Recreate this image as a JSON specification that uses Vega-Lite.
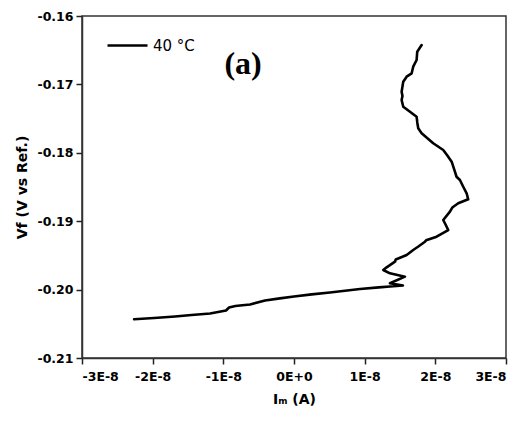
{
  "$schema": "https://vega.github.io/schema/vega-lite/v6.json",
  "autosize": {"type": "none"},
  "width": 424,
  "height": 342,
  "padding": {"left": 82, "top": 16, "right": 17, "bottom": 65},
  "background": "white",
  "config": {
    "view": {"stroke": "#333333", "strokeWidth": 1.5},
    "axis": {
      "grid": false,
      "ticks": true,
      "domainColor": "#333333",
      "domainWidth": 1.5,
      "tickColor": "#222222",
      "tickWidth": 1.5,
      "labelFont": "DejaVu Sans",
      "labelFontWeight": "bold",
      "labelFontSize": 12.5,
      "labelColor": "black",
      "titleFont": "DejaVu Sans",
      "titleFontWeight": "bold",
      "titleFontSize": 14,
      "titleColor": "black"
    }
  },
  "layer": [
    {
      "data": {
        "values": [
          {"i": 1, "I": -2.263e-8, "V": -0.20434},
          {"i": 2, "I": -1.98e-8, "V": -0.20415},
          {"i": 3, "I": -1.683e-8, "V": -0.20393},
          {"i": 4, "I": -1.45e-8, "V": -0.20372},
          {"i": 5, "I": -1.188e-8, "V": -0.20349},
          {"i": 6, "I": -0.962e-8, "V": -0.20306},
          {"i": 7, "I": -0.919e-8, "V": -0.20262},
          {"i": 8, "I": -0.83e-8, "V": -0.20240},
          {"i": 9, "I": -0.764e-8, "V": -0.20232},
          {"i": 10, "I": -0.622e-8, "V": -0.20218},
          {"i": 11, "I": -0.41e-8, "V": -0.20159},
          {"i": 12, "I": -0.2e-8, "V": -0.20128},
          {"i": 13, "I": 0.0, "V": -0.20101},
          {"i": 14, "I": 0.25e-8, "V": -0.20070},
          {"i": 15, "I": 0.509e-8, "V": -0.20042},
          {"i": 16, "I": 0.934e-8, "V": -0.19991},
          {"i": 17, "I": 1.2e-8, "V": -0.19968},
          {"i": 18, "I": 1.358e-8, "V": -0.19955},
          {"i": 19, "I": 1.542e-8, "V": -0.1994},
          {"i": 20, "I": 1.358e-8, "V": -0.19908},
          {"i": 21, "I": 1.57e-8, "V": -0.19811},
          {"i": 22, "I": 1.358e-8, "V": -0.19762},
          {"i": 23, "I": 1.263e-8, "V": -0.19713},
          {"i": 24, "I": 1.311e-8, "V": -0.19674},
          {"i": 25, "I": 1.429e-8, "V": -0.19592},
          {"i": 26, "I": 1.44e-8, "V": -0.19560},
          {"i": 27, "I": 1.594e-8, "V": -0.19494},
          {"i": 28, "I": 1.687e-8, "V": -0.19421},
          {"i": 29, "I": 1.76e-8, "V": -0.19370},
          {"i": 30, "I": 1.853e-8, "V": -0.193},
          {"i": 31, "I": 1.87e-8, "V": -0.19280},
          {"i": 32, "I": 2.018e-8, "V": -0.19227},
          {"i": 33, "I": 2.182e-8, "V": -0.19129},
          {"i": 34, "I": 2.15e-8, "V": -0.19060},
          {"i": 35, "I": 2.112e-8, "V": -0.18982},
          {"i": 36, "I": 2.207e-8, "V": -0.18861},
          {"i": 37, "I": 2.24e-8, "V": -0.18800},
          {"i": 38, "I": 2.324e-8, "V": -0.18738},
          {"i": 39, "I": 2.465e-8, "V": -0.1868},
          {"i": 40, "I": 2.443e-8, "V": -0.18592},
          {"i": 41, "I": 2.395e-8, "V": -0.18496},
          {"i": 42, "I": 2.348e-8, "V": -0.18398},
          {"i": 43, "I": 2.30e-8, "V": -0.18350},
          {"i": 44, "I": 2.277e-8, "V": -0.18276},
          {"i": 45, "I": 2.231e-8, "V": -0.1813},
          {"i": 46, "I": 2.17e-8, "V": -0.18040},
          {"i": 47, "I": 2.112e-8, "V": -0.17959},
          {"i": 48, "I": 1.97e-8, "V": -0.17861},
          {"i": 49, "I": 1.806e-8, "V": -0.17715},
          {"i": 50, "I": 1.758e-8, "V": -0.17642},
          {"i": 51, "I": 1.745e-8, "V": -0.17560},
          {"i": 52, "I": 1.735e-8, "V": -0.17472},
          {"i": 53, "I": 1.641e-8, "V": -0.17399},
          {"i": 54, "I": 1.546e-8, "V": -0.17326},
          {"i": 55, "I": 1.523e-8, "V": -0.17228},
          {"i": 56, "I": 1.535e-8, "V": -0.17170},
          {"i": 57, "I": 1.523e-8, "V": -0.17107},
          {"i": 58, "I": 1.546e-8, "V": -0.1696},
          {"i": 59, "I": 1.594e-8, "V": -0.16887},
          {"i": 60, "I": 1.665e-8, "V": -0.16838},
          {"i": 61, "I": 1.687e-8, "V": -0.16741},
          {"i": 62, "I": 1.735e-8, "V": -0.16643},
          {"i": 63, "I": 1.744e-8, "V": -0.16522},
          {"i": 64, "I": 1.806e-8, "V": -0.16424}
        ]
      },
      "mark": {"type": "line", "strokeWidth": 2.6, "strokeJoin": "round", "strokeCap": "round"},
      "encoding": {
        "x": {
          "field": "I", "type": "quantitative",
          "scale": {"domain": [-3e-8, 3e-8], "nice": false, "zero": false},
          "axis": {
            "orient": "bottom",
            "values": [-3e-8, -2.5e-8, -2e-8, -1.5e-8, -1e-8, -0.5e-8, 0, 0.5e-8, 1e-8, 1.5e-8, 2e-8, 2.5e-8, 3e-8],
            "labelExpr": "abs(datum.value * 1e8 - round(datum.value * 1e8)) > 0.01 ? '' : (datum.value == 0 ? '0E+0' : (datum.value < 0 ? '-' + round(-datum.value * 1e8) + 'E-8' : round(datum.value * 1e8) + 'E-8'))",
            "tickSize": {"condition": {"test": "abs(datum.value * 1e8 - round(datum.value * 1e8)) > 0.01", "value": 3.5}, "value": 6},
            "labelPadding": 6, "labelOverlap": false, "title": "Iₘ (A)", "titlePadding": 10
          }
        },
        "y": {
          "field": "V", "type": "quantitative",
          "scale": {"domain": [-0.21, -0.16], "nice": false, "zero": false},
          "axis": {
            "orient": "left",
            "values": [-0.21, -0.205, -0.2, -0.195, -0.19, -0.185, -0.18, -0.175, -0.17, -0.165, -0.16],
            "labelExpr": "abs(datum.value * 100 - round(datum.value * 100)) > 0.01 ? '' : '-' + format(-datum.value, '.2f')",
            "tickSize": {"condition": {"test": "abs(datum.value * 100 - round(datum.value * 100)) > 0.01", "value": 3.5}, "value": 6},
            "labelPadding": 3, "labelOverlap": false, "title": "Vf (V vs Ref.)", "titlePadding": 7
          }
        },
        "order": {"field": "i", "type": "quantitative"},
        "color": {
          "datum": "40 °C",
          "type": "nominal",
          "scale": {"range": ["black"]},
          "legend": {
            "title": null,
            "orient": "none",
            "legendX": 24,
            "legendY": 8,
            "padding": 0,
            "symbolType": "stroke",
            "symbolSize": 1600,
            "symbolStrokeWidth": 2.5,
            "symbolStrokeColor": "black",
            "labelFont": "DejaVu Sans",
            "labelFontSize": 15,
            "labelColor": "black",
            "labelOffset": 4
          }
        }
      }
    },
    {
      "data": {"values": [{"label": "(a)", "I": -0.72e-8, "V": -0.16848}]},
      "mark": {"type": "text", "font": "Liberation Serif", "fontWeight": "bold", "fontSize": 32, "align": "center", "baseline": "alphabetic", "color": "black"},
      "encoding": {
        "x": {"field": "I", "type": "quantitative"},
        "y": {"field": "V", "type": "quantitative"},
        "text": {"field": "label", "type": "nominal"}
      }
    }
  ]
}
